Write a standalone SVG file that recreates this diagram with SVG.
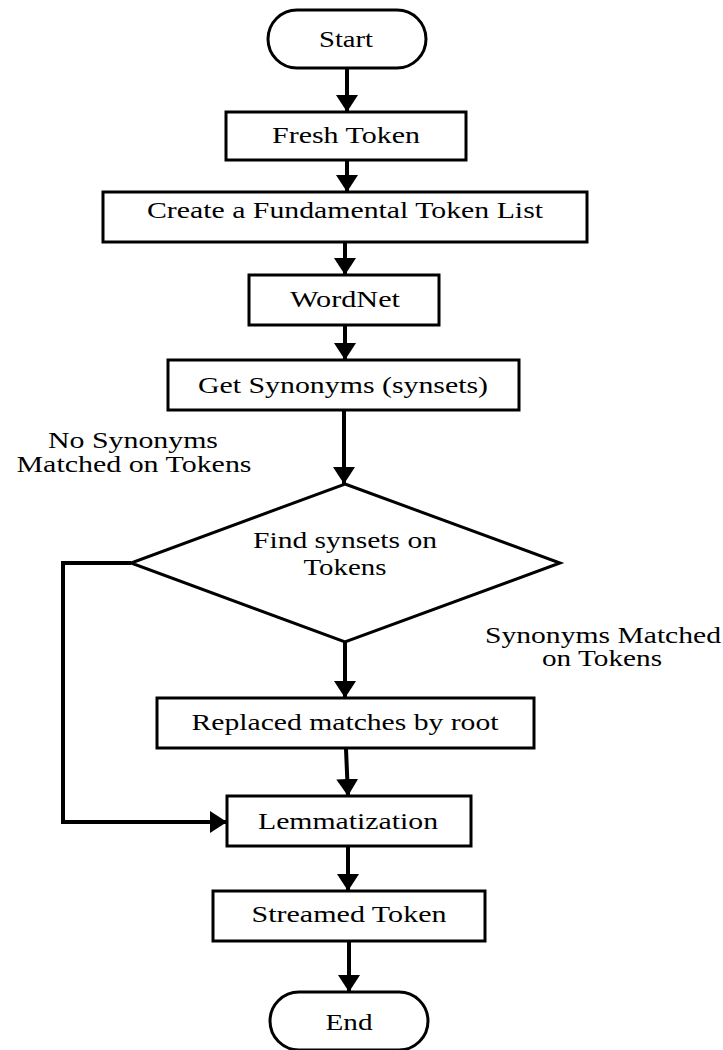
<svg xmlns="http://www.w3.org/2000/svg" width="723" height="1050" viewBox="0 0 723 1050">
  <style>
    .box { fill: #ffffff; stroke: #000000; stroke-width: 3; }
    .lbl { font-family: "Liberation Serif", "Times New Roman", serif; font-size: 24px; fill: #000000; text-anchor: middle; }
    .edge-lbl { font-family: "Liberation Serif", "Times New Roman", serif; font-size: 23px; fill: #000000; text-anchor: middle; }
    .conn { fill: none; stroke: #000000; stroke-width: 4; }
  </style>
  <defs>
    <marker id="arrow" markerUnits="userSpaceOnUse" markerWidth="18" markerHeight="22" viewBox="0 0 18 22" refX="17" refY="11" orient="auto">
      <path d="M0,0 L17,11 L0,22 Z" fill="#000000"/>
    </marker>
  </defs>
  <rect width="723" height="1050" fill="#ffffff"/>

  <!-- connectors -->
  <g id="connectors">
    <line class="conn" x1="347" y1="69" x2="347" y2="112" marker-end="url(#arrow)"/>
    <line class="conn" x1="347" y1="161" x2="347" y2="192" marker-end="url(#arrow)"/>
    <line class="conn" x1="345" y1="243" x2="345" y2="275" marker-end="url(#arrow)"/>
    <line class="conn" x1="345" y1="326" x2="345" y2="360" marker-end="url(#arrow)"/>
    <line class="conn" x1="344" y1="411" x2="344" y2="484" marker-end="url(#arrow)"/>
    <line class="conn" x1="345" y1="642" x2="345" y2="698" marker-end="url(#arrow)"/>
    <line class="conn" x1="346" y1="749" x2="348" y2="796" marker-end="url(#arrow)"/>
    <line class="conn" x1="348" y1="847" x2="348" y2="891" marker-end="url(#arrow)"/>
    <line class="conn" x1="349" y1="942" x2="349" y2="992" marker-end="url(#arrow)"/>
    <path class="conn" d="M131,563 L63,563 L63,822 L227,822" marker-end="url(#arrow)"/>
  </g>

  <!-- edge labels -->
  <g id="edge-labels">
    <text class="edge-lbl" x="133" y="448" textLength="170" lengthAdjust="spacingAndGlyphs">No Synonyms</text>
    <text class="edge-lbl" x="134" y="472" textLength="235" lengthAdjust="spacingAndGlyphs">Matched on Tokens</text>
    <text class="edge-lbl" x="603" y="643" textLength="236" lengthAdjust="spacingAndGlyphs">Synonyms Matched</text>
    <text class="edge-lbl" x="602" y="666" textLength="120" lengthAdjust="spacingAndGlyphs">on Tokens</text>
  </g>

  <g id="start">
    <rect class="box" x="268" y="10" width="158" height="58" rx="29" ry="29"/>
    <text class="lbl" x="346" y="47" textLength="54" lengthAdjust="spacingAndGlyphs">Start</text>
  </g>

  <g id="fresh-token">
    <rect class="box" x="226" y="112" width="240" height="48"/>
    <text class="lbl" x="346" y="143" textLength="148" lengthAdjust="spacingAndGlyphs">Fresh Token</text>
  </g>

  <g id="fundamental-list">
    <rect class="box" x="103" y="192" width="484" height="50"/>
    <text class="lbl" x="345" y="218" textLength="396" lengthAdjust="spacingAndGlyphs">Create a Fundamental Token List</text>
  </g>

  <g id="wordnet">
    <rect class="box" x="249" y="275" width="190" height="50"/>
    <text class="lbl" x="345" y="307" textLength="110" lengthAdjust="spacingAndGlyphs">WordNet</text>
  </g>

  <g id="get-synonyms">
    <rect class="box" x="168" y="360" width="351" height="50"/>
    <text class="lbl" x="343" y="393" textLength="290" lengthAdjust="spacingAndGlyphs">Get Synonyms (synsets)</text>
  </g>

  <g id="find-synsets">
    <polygon class="box" points="345,484 560,563 345,642 131,563"/>
    <text class="lbl" x="345" y="548" textLength="184" lengthAdjust="spacingAndGlyphs">Find synsets on</text>
    <text class="lbl" x="345" y="575" textLength="83" lengthAdjust="spacingAndGlyphs">Tokens</text>
  </g>

  <g id="replace-root">
    <rect class="box" x="157" y="698" width="377" height="50"/>
    <text class="lbl" x="345" y="730" textLength="307" lengthAdjust="spacingAndGlyphs">Replaced matches by root</text>
  </g>

  <g id="lemmatization">
    <rect class="box" x="227" y="796" width="244" height="50"/>
    <text class="lbl" x="348" y="829" textLength="180" lengthAdjust="spacingAndGlyphs">Lemmatization</text>
  </g>

  <g id="streamed-token">
    <rect class="box" x="213" y="891" width="272" height="50"/>
    <text class="lbl" x="349" y="922" textLength="195" lengthAdjust="spacingAndGlyphs">Streamed Token</text>
  </g>

  <g id="end">
    <rect class="box" x="270" y="992" width="158" height="58" rx="29" ry="29"/>
    <text class="lbl" x="349" y="1030" textLength="47" lengthAdjust="spacingAndGlyphs">End</text>
  </g>
</svg>
